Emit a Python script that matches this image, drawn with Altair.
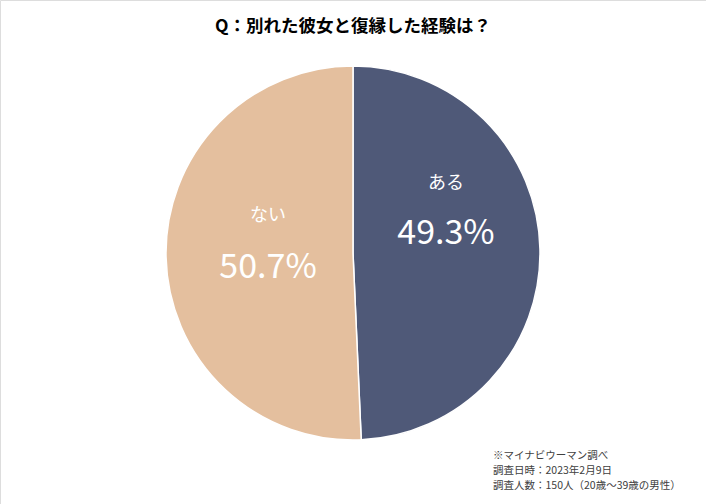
import altair as alt
import pandas as pd

categories = ["ある", "ない"]
values = [49.3, 50.7]
order = [0, 1]
colors = ["#4F5978", "#E4BF9E"]
title_text = "Q：別れた彼女と復縁した経験は？"
notes = ["※マイナビウーマン調べ", "調査日時：2023年2月9日", "調査人数：150人（20歳～39歳の男性）"]

df = pd.DataFrame({"cat": categories, "value": values, "ord": order})
df["pct"] = df["value"].map(lambda v: f"{v:.1f}%")

FONT = "Noto Sans CJK JP"
W, H = 706, 504
CX, CY, R = 353, 253, 187

pie = alt.Chart(df).mark_arc(outerRadius=R, stroke="white", strokeWidth=1.5).encode(
    theta=alt.Theta("value:Q", stack=True),
    order=alt.Order("ord:Q"),
    x=alt.value(CX), y=alt.value(CY),
    color=alt.Color("cat:N", scale=alt.Scale(domain=categories, range=colors), legend=None),
)

stacked = alt.Chart(df).transform_window(
    cum="sum(value)", sort=[alt.SortField("ord")]
).transform_calculate(mid="datum.cum - datum.value / 2")

def label_layers(cat, name_dy, pct_dy, radius):
    b = stacked.transform_filter(alt.datum.cat == cat).encode(
        theta=alt.Theta("mid:Q", stack=None, scale=alt.Scale(domain=[0, 100])),
        x=alt.value(CX), y=alt.value(CY),
    )
    name = b.mark_text(radius=radius, dy=name_dy, fontSize=18, font=FONT, color="white").encode(text="cat:N")
    pct = b.mark_text(radius=radius, dy=pct_dy, fontSize=34, font=FONT, color="white").encode(text="pct:N")
    return [name, pct]

labels = label_layers("ある", -67, -17, 93) + label_layers("ない", -39, 13, 85)

title = alt.Chart(pd.DataFrame({"t": [title_text]})).mark_text(
    fontSize=17.5, fontWeight="bold", font=FONT, color="#000000", align="center"
).encode(x=alt.value(W / 2), y=alt.value(27), text="t:N")

notes_df = pd.DataFrame({"t": notes, "i": list(range(len(notes)))})
note = alt.Chart(notes_df).mark_text(
    fontSize=10.5, font=FONT, color="#404040", align="left", baseline="middle"
).encode(
    x=alt.value(493),
    y=alt.Y("i:O", axis=None, scale=alt.Scale(domain=[0, 1, 2], range=[456, 486], padding=0)),
    text="t:N",
)

chart = alt.layer(pie, *labels, title, note).resolve_scale(theta="independent").properties(
    width=W, height=H, padding=0, autosize=alt.AutoSizeParams(type="none")
).configure_view(stroke=None).configure(background="white")

chart.save("out.html", embed_options={"renderer": "svg", "actions": False})
